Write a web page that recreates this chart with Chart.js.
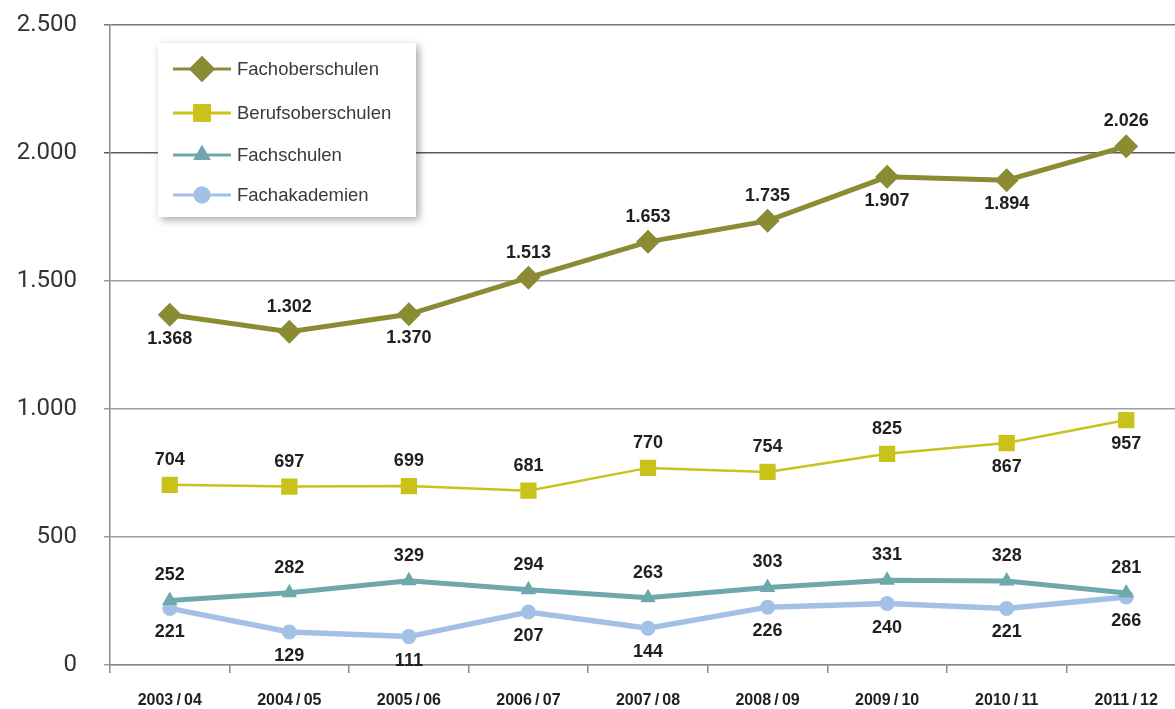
<!DOCTYPE html>
<html>
<head>
<meta charset="utf-8">
<script src="https://cdn.jsdelivr.net/npm/chart.js@4"></script>
<style>
  html, body { margin: 0; padding: 0; background: #fff; overflow: hidden; }
  #wrap { width: 1175px; height: 709px; overflow: hidden; }
</style>
</head>
<body>
<div id="wrap"><canvas id="chart" width="1190" height="709"></canvas></div>
<script>
// school years
const years = ['2003\u2009/\u200904', '2004\u2009/\u200905', '2005\u2009/\u200906', '2006\u2009/\u200907',
  '2007\u2009/\u200908', '2008\u2009/\u200909', '2009\u2009/\u200910', '2010\u2009/\u200911', '2011\u2009/\u200912'];

// series values
const fachoberschulen = [1368, 1302, 1370, 1513, 1653, 1735, 1907, 1894, 2026];
const berufsoberschulen = [704, 697, 699, 681, 770, 754, 825, 867, 957];
const fachschulen = [252, 282, 329, 294, 263, 303, 331, 328, 281];
const fachakademien = [221, 129, 111, 207, 144, 226, 240, 221, 266];

// value label above (a) or below (b) the point
const fachoberPos = ['b', 'a', 'b', 'a', 'a', 'a', 'b', 'b', 'a'];
const berufsoberPos = ['a', 'a', 'a', 'a', 'a', 'a', 'a', 'b', 'b'];
const fachschulPos = ['a', 'a', 'a', 'a', 'a', 'a', 'a', 'a', 'a'];
const fachakadPos = ['b', 'b', 'b', 'b', 'b', 'b', 'b', 'b', 'b'];

const yTicks = [0, 500, 1000, 1500, 2000, 2500];

// 1368 -> "1.368"
function fmt(v) {
  return String(v).replace(/\B(?=(\d{3})+(?!\d))/g, '.');
}

// draws the numbers next to every point
const pointLabels = {
  id: 'pointLabels',
  afterDatasetsDraw(chart) {
    const ctx = chart.ctx;
    ctx.save();
    ctx.font = 'bold 18px "Liberation Sans", Arial, sans-serif';
    ctx.fillStyle = '#231f20';
    ctx.textAlign = 'center';
    ctx.textBaseline = 'middle';
    chart.data.datasets.forEach((ds, i) => {
      chart.getDatasetMeta(i).data.forEach((pt, j) => {
        const dy = ds.labelPos[j] === 'a' ? -25 : 24;
        ctx.fillText(fmt(ds.data[j]), pt.x, pt.y + dy);
      });
    });
    ctx.restore();
  }
};

// legend box with shadow inside the plot
const boxLegend = {
  id: 'boxLegend',
  afterDraw(chart) {
    const ctx = chart.ctx;
    const x0 = 158, y0 = 43, w = 258, h = 174;
    ctx.save();
    ctx.shadowColor = 'rgba(0,0,0,0.35)';
    ctx.shadowBlur = 8;
    ctx.shadowOffsetX = 3;
    ctx.shadowOffsetY = 3;
    ctx.fillStyle = '#fff';
    ctx.fillRect(x0, y0, w, h);
    ctx.restore();

    const rows = [69, 113, 155, 195];
    ctx.save();
    chart.data.datasets.forEach((ds, i) => {
      const y = rows[i];
      ctx.strokeStyle = ds.borderColor;
      ctx.lineWidth = 3;
      ctx.beginPath();
      ctx.moveTo(173, y);
      ctx.lineTo(231, y);
      ctx.stroke();
      ctx.fillStyle = ds.borderColor;
      Chart.helpers.drawPoint(ctx, {
        pointStyle: ds.pointStyle,
        radius: ds.pointRadius + 1,
        borderWidth: 0,
        rotation: 0
      }, 202, y);
      ctx.fill();
      ctx.fillStyle = '#3a3a3a';
      ctx.font = '18.5px "Liberation Sans", Arial, sans-serif';
      ctx.textAlign = 'left';
      ctx.textBaseline = 'middle';
      ctx.fillText(ds.label, 237, y + 1);
    });
    ctx.restore();
  }
};

function makeSet(label, data, color, style, radius, width, pos) {
  return {
    label: label,
    data: data,
    borderColor: color,
    backgroundColor: color,
    borderWidth: width,
    pointStyle: style,
    pointRadius: radius,
    pointHoverRadius: radius,
    pointBorderWidth: 0,
    tension: 0,
    labelPos: pos
  };
}

new Chart(document.getElementById('chart'), {
  type: 'line',
  data: {
    labels: years,
    datasets: [
      makeSet('Fachoberschulen', fachoberschulen, '#8b8b33', 'rectRot', 12, 5, fachoberPos),
      makeSet('Berufsoberschulen', berufsoberschulen, '#c9c21b', 'rect', 11.5, 2.5, berufsoberPos),
      makeSet('Fachschulen', fachschulen, '#6fa8ac', 'triangle', 9, 5, fachschulPos),
      makeSet('Fachakademien', fachakademien, '#a3c1e6', 'circle', 7.5, 5.5, fachakadPos)
    ]
  },
  options: {
    responsive: false,
    animation: false,
    layout: { autoPadding: false, padding: { top: 25, right: 4, bottom: 0, left: 0 } },
    plugins: {
      legend: { display: false },
      tooltip: { enabled: false }
    },
    scales: {
      x: {
        offset: true,
        grid: {
          offset: true,
          drawOnChartArea: false,
          drawTicks: true,
          tickLength: 8,
          color: '#8a8a8a',
          lineWidth: 1.5
        },
        border: { color: '#8a8a8a', width: 1.5 },
        ticks: {
          color: '#231f20',
          padding: 18,
          font: { family: '"Liberation Sans", Arial, sans-serif', size: 16, weight: 'bold' }
        },
        afterFit(scale) { scale.height = 44; }
      },
      y: {
        min: 0,
        max: 2500,
        afterBuildTicks(scale) { scale.ticks = yTicks.map(v => ({ value: v })); },
        grid: {
          tickLength: 6,
          lineWidth: 1.5,
          color(c) {
            const v = c.tick ? c.tick.value : 0;
            if (v === 2000) return '#5a5a5a';
            if (v === 2500) return '#777';
            return '#a0a0a0';
          }
        },
        border: { color: '#8a8a8a', width: 1.5 },
        ticks: {
          color: '#333',
          padding: 27,
          font: { family: 'Roboto, "Liberation Sans", sans-serif', size: 24, weight: '400' },
          callback: v => fmt(v)
        },
        afterFit(scale) {
          scale.width = 110;
          scale.paddingTop = 0;
          scale.paddingBottom = 0;
        }
      }
    }
  },
  plugins: [pointLabels, boxLegend]
});
</script>
</body>
</html>
